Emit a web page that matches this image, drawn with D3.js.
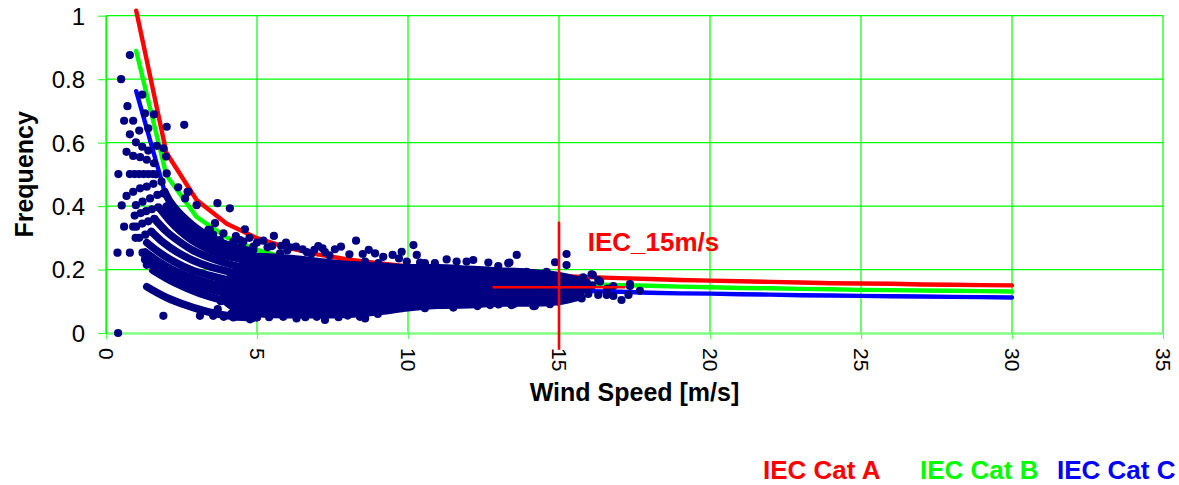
<!DOCTYPE html>
<html><head><meta charset="utf-8">
<script src="https://cdn.jsdelivr.net/npm/d3@7"></script>
<style>
html,body{margin:0;padding:0;background:#fff;}
svg{display:block;font-family:"Liberation Sans",Arial,sans-serif;}
</style></head>
<body>
<svg id="chart" width="1179" height="485"></svg>
<script>
// ---- axis ticks ----
const xTicks = [0,5,10,15,20,25,30,35];
const yTicks = [0,0.2,0.4,0.6,0.8,1];
const yTickLabels = ["0","0.2","0.4","0.6","0.8","1"];

// ---- IEC normal turbulence curves (values read at integer wind speeds) ----
const windSpeeds = [1,2,3,4,5,6,7,8,9,10,11,12,13,14,15,16,17,18,19,20,21,22,23,24,25,26,27,28,29,30];
const catA = [1.016,0.568,0.419,0.344,0.299,0.269,0.248,0.232,0.220,0.210,0.202,0.195,0.189,0.184,0.180,0.176,0.173,0.170,0.167,0.165,0.163,0.161,0.159,0.157,0.156,0.155,0.153,0.152,0.151,0.150];
const catB = [0.889,0.497,0.366,0.301,0.262,0.236,0.217,0.203,0.192,0.183,0.176,0.170,0.165,0.161,0.157,0.154,0.151,0.149,0.146,0.144,0.142,0.141,0.139,0.138,0.136,0.135,0.134,0.133,0.132,0.131];
const catC = [0.762,0.426,0.314,0.258,0.224,0.202,0.186,0.174,0.165,0.157,0.151,0.146,0.142,0.138,0.135,0.132,0.130,0.127,0.125,0.124,0.122,0.121,0.119,0.118,0.117,0.116,0.115,0.114,0.113,0.112];

// ---- measured scatter: individual points [wind speed, frequency] ----
const dots = [
 [0.40,0.0],[0.38,0.253],[0.79,0.253],[1.21,0.253],[0.60,0.335],[0.90,0.335],[0.98,0.300],[0.52,0.402],[0.41,0.501],
 [0.79,0.876],[0.50,0.80],[1.20,0.751],[0.71,0.715],[0.60,0.669],[0.90,0.669],[1.29,0.692],[1.59,0.689],[2.59,0.656],[2.01,0.650],
 [0.79,0.626],[1.10,0.638],[1.40,0.645],[0.99,0.601],[1.20,0.587],[1.40,0.575],[1.68,0.590],[1.90,0.582],[0.68,0.571],[0.90,0.558],
 [1.13,0.554],[1.35,0.546],[1.59,0.535],[1.99,0.556],[2.01,0.503],
 [0.79,0.501],[0.95,0.501],[1.10,0.501],[1.25,0.501],[1.40,0.501],[1.55,0.501],[1.65,0.500],
 [2.39,0.459],[2.70,0.445],[0.68,0.432],
 [0.90,0.445],[1.13,0.456],[1.35,0.461],[1.57,0.470],[1.84,0.477],
 [0.99,0.403],[1.21,0.414],[1.46,0.424],[1.70,0.435],[1.90,0.440],
 [0.95,0.370],[1.15,0.378],[1.33,0.384],[1.52,0.390],[1.73,0.396],
 [1.00,0.335],[1.20,0.345],[1.40,0.352],[1.60,0.360],
 [1.10,0.300],[1.30,0.310],[1.50,0.318],
 [1.29,0.232],[1.35,0.215],[1.90,0.054],
 [2.73,0.445],[2.62,0.424],[3.00,0.403],[3.69,0.409],[4.10,0.393],[4.60,0.327],[3.44,0.325],[3.61,0.346],[3.89,0.314],
 [4.55,0.288],[4.88,0.262],[3.39,0.325],[3.55,0.309],[3.77,0.293],[4.22,0.288],[4.44,0.293],[4.49,0.277],
 [3.11,0.054],[3.55,0.054],[3.90,0.051],[4.22,0.049],[4.77,0.043],[5.00,0.050],
 [5.56,0.306],[5.21,0.291],[5.96,0.285],[5.50,0.274],[6.29,0.272],[6.51,0.264],[7.03,0.274],[7.17,0.267],[7.58,0.264],
 [7.78,0.272],[8.28,0.291],[8.06,0.248],[8.50,0.249],[8.91,0.251],[9.18,0.240],[9.49,0.246],[9.79,0.256],[10.18,0.277],
 [10.29,0.246],[8.58,0.225],[9.02,0.220],[9.96,0.225],[10.40,0.222],[4.88,0.272],[5.76,0.251],[6.48,0.230],
 [5.00,0.285],[6.80,0.250],[7.40,0.245],[6.00,0.260],[9.70,0.235],
 [4.30,0.305],[4.75,0.300],[5.35,0.270],[5.80,0.275],[6.10,0.270],[6.65,0.255],[7.25,0.255],[8.70,0.262],[6.90,0.262],
 [4.82,0.046],[5.87,0.051],[6.31,0.046],[6.98,0.051],[7.25,0.041],[8.41,0.051],[8.58,0.046],[9.29,0.088],[9.74,0.083],
 [10.18,0.094],[10.56,0.078],[5.40,0.050],[6.60,0.050],[7.70,0.050],[8.00,0.055],[9.00,0.060],
 [13.60,0.246],[15.25,0.249],[14.87,0.223],[15.25,0.214],[12.99,0.211],[13.32,0.220],[12.66,0.222],[12.16,0.230],
 [11.94,0.225],[11.61,0.225],[11.28,0.232],[10.89,0.220],[10.56,0.220],[13.93,0.193],[14.59,0.193],[16.08,0.185],
 [16.36,0.162],[16.80,0.148],[17.35,0.154],[17.68,0.133],[17.07,0.104],[17.30,0.120],[15.75,0.109],[16.58,0.120],
 [14.20,0.085],[14.98,0.099],[15.00,0.115],[13.71,0.099],[13.16,0.104],[12.72,0.088],[11.83,0.094],[11.06,0.088],
 [16.30,0.167],[15.92,0.159],[16.80,0.117],[16.30,0.120],[15.97,0.123],[15.64,0.130],[15.09,0.104],[14.70,0.091],
 [14.15,0.085],[13.49,0.091],[12.94,0.104],[15.60,0.167],[16.12,0.183],[15.90,0.140],[16.10,0.150],[16.60,0.140],
 [15.80,0.175],[11.50,0.080],[12.30,0.085],[13.00,0.090],[13.36,0.222],[13.43,0.088],[17.35,0.148],
 [4.15,0.060],[4.40,0.058],[3.80,0.100],[3.70,0.075]
];

// ---- chains of overlapping points (quantised turbulence arcs at low wind speed) ----
const arcs = [
 [[1.95,0.445],[2.12,0.414],[2.39,0.382],[2.67,0.356],[3.00,0.330],[3.33,0.309],[3.77,0.288],[4.22,0.272],[4.8,0.258]],
 [[2.00,0.400],[2.28,0.367],[2.56,0.340],[2.89,0.314],[3.28,0.293],[3.67,0.272],[4.20,0.255],[4.8,0.245]],
 [[1.80,0.390],[2.10,0.355],[2.45,0.322],[2.85,0.292],[3.30,0.268],[3.80,0.248],[4.30,0.236],[4.9,0.225]],
 [[1.65,0.355],[2.00,0.320],[2.40,0.290],[2.85,0.262],[3.35,0.240],[3.90,0.222],[4.40,0.210],[5.0,0.200]],
 [[1.50,0.320],[1.90,0.285],[2.35,0.255],[2.85,0.230],[3.40,0.210],[4.00,0.195],[4.50,0.185],[5.0,0.178]],
 [[1.35,0.285],[1.75,0.255],[2.25,0.225],[2.80,0.200],[3.40,0.182],[4.00,0.168],[4.60,0.158],[5.1,0.150]],
 [[1.30,0.255],[1.70,0.228],[2.20,0.200],[2.80,0.176],[3.40,0.158],[4.10,0.145],[4.70,0.135],[5.2,0.128]],
 [[1.38,0.225],[1.80,0.200],[2.30,0.176],[2.90,0.153],[3.60,0.134],[4.30,0.120],[5.00,0.110]],
 [[1.55,0.198],[2.30,0.157],[3.10,0.125],[4.00,0.100],[4.80,0.083],[5.50,0.075]],
 [[1.35,0.146],[2.00,0.112],[2.70,0.086],[3.40,0.066],[4.20,0.052],[5.00,0.048]]
];

// ---- envelope of the dense point cloud [wind speed, lower, upper] ----
const cloudX     = [3.9,4.4,5,6,7,8,9,10,11,12,13,14,15,15.7];
const cloudLower = [0.105,0.072,0.062,0.058,0.058,0.060,0.068,0.080,0.088,0.090,0.095,0.095,0.100,0.115];
const cloudUpper = [0.150,0.205,0.240,0.235,0.225,0.215,0.210,0.205,0.205,0.200,0.195,0.190,0.180,0.165];

// ---- IEC 15 m/s reference marker ----
const markerV = [[15,0.351],[15,-0.053]];
const markerH = [[12.8,0.144],[17.2,0.144]];

const legendItems = ["IEC Cat A","IEC Cat B","IEC Cat C"];
const legendColors = ["#ff0000","#00ff00","#0000ff"];

// ================= drawing =================
const svg = d3.select("#chart");
const x = d3.scaleLinear().domain([0,35]).range([106,1163]);
const y = d3.scaleLinear().domain([0,1]).range([333,15.7]);
const FONT = '"Liberation Sans", Arial, sans-serif';

// gridlines
const g = svg.append("g");
g.selectAll("line.v").data(xTicks).join("line")
  .attr("x1",d=>x(d)).attr("x2",d=>x(d)).attr("y1",y(1)).attr("y2",y(0))
  .attr("stroke","#00ff00").attr("stroke-width",1.2);
g.selectAll("line.h").data(yTicks.filter(d=>d>0)).join("line")
  .attr("x1",x(0)).attr("x2",x(35)).attr("y1",d=>y(d)).attr("y2",d=>y(d))
  .attr("stroke","#00ff00").attr("stroke-width",1.2);

// axes
const xAxis = svg.append("g").attr("transform",`translate(0,${y(0)})`)
  .call(d3.axisBottom(x).tickValues(xTicks).tickSize(6).tickSizeOuter(0).tickFormat(d3.format("d")));
xAxis.select(".domain").attr("stroke","#80ff80").attr("stroke-width",2.5);
xAxis.selectAll(".tick line").attr("stroke","#66ff66").attr("stroke-width",1.2);
xAxis.selectAll(".tick text")
  .attr("font-family",FONT).attr("font-size",21).attr("fill","#000")
  .attr("transform","rotate(90)").attr("text-anchor","start")
  .attr("x",15).attr("y",0).attr("dy","0.35em");

const yAxis = svg.append("g").attr("transform",`translate(${x(0)},0)`)
  .call(d3.axisLeft(y).tickValues(yTicks).tickSize(8).tickSizeOuter(0).tickFormat((d,i)=>yTickLabels[i]));
yAxis.select(".domain").attr("stroke","#00ff00").attr("stroke-width",1.2);
yAxis.selectAll(".tick line").attr("stroke","#33ff33").attr("stroke-width",1.2);
yAxis.selectAll(".tick text")
  .attr("font-family",FONT).attr("font-size",24).attr("fill","#000")
  .attr("x",-21).attr("dy","0.35em");

// IEC curves
const line = d3.line().x(d=>x(d[0])).y(d=>y(d[1]));
[catA,catB,catC].forEach((s,i)=>{
  svg.append("path").datum(windSpeeds.map((v,j)=>[v,s[j]]))
    .attr("d",line).attr("fill","none").attr("stroke",legendColors[i])
    .attr("stroke-width",4.4).attr("stroke-linejoin","round").attr("stroke-linecap","round");
});

const NAVY = "#000080";
// dense cloud
const area = d3.area().x(d=>x(d[0])).y0(d=>y(d[1])).y1(d=>y(d[2])).curve(d3.curveMonotoneX);
svg.append("path").datum(cloudX.map((v,i)=>[v,cloudLower[i],cloudUpper[i]]))
  .attr("d",area).attr("fill",NAVY).attr("stroke",NAVY)
  .attr("stroke-width",8).attr("stroke-linejoin","round");

// arcs
svg.append("g").selectAll("path").data(arcs).join("path")
  .attr("d",d3.line().x(d=>x(d[0])).y(d=>y(d[1])).curve(d3.curveCatmullRom))
  .attr("fill","none").attr("stroke",NAVY).attr("stroke-width",7.6)
  .attr("stroke-linecap","round").attr("stroke-linejoin","round");

// dots
svg.append("g").selectAll("circle").data(dots).join("circle")
  .attr("cx",d=>x(d[0])).attr("cy",d=>y(d[1])).attr("r",4.1).attr("fill",NAVY);

// IEC 15 m/s marker
[markerV,markerH].forEach(m=>{
  svg.append("path").datum(m).attr("d",line).attr("stroke","#ff0000").attr("stroke-width",2.6).attr("fill","none");
});
svg.append("text").attr("x",x(15.95)).attr("y",y(0.259))
  .attr("font-family",FONT).attr("font-size",26).attr("font-weight","bold").attr("fill","#ff0000")
  .text("IEC_15m/s");

// axis titles
svg.append("text").attr("x",(x(0)+x(35))/2).attr("y",401)
  .attr("text-anchor","middle").attr("font-family",FONT).attr("font-size",25).attr("font-weight","bold")
  .text("Wind Speed [m/s]");
svg.append("text").attr("transform",`translate(33,${(y(0)+y(1))/2}) rotate(-90)`)
  .attr("text-anchor","middle").attr("font-family",FONT).attr("font-size",25).attr("font-weight","bold")
  .text("Frequency");

// legend
const legendX = [763,920,1057];
svg.append("g").selectAll("text").data(legendItems).join("text")
  .attr("x",(d,i)=>legendX[i]).attr("y",479)
  .attr("font-family",FONT).attr("font-size",26).attr("font-weight","bold")
  .attr("fill",(d,i)=>legendColors[i]).text(d=>d);
</script>
</body></html>
